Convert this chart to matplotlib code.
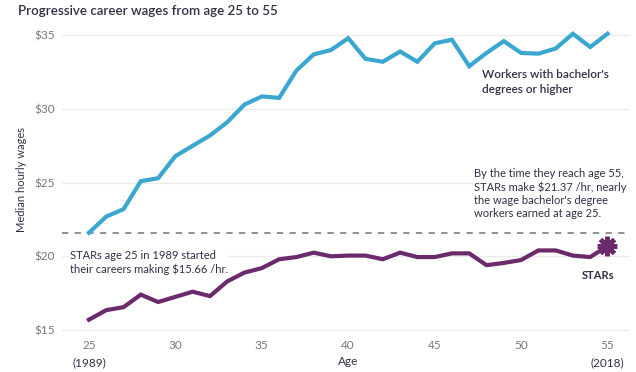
import matplotlib
matplotlib.use('Agg')
import matplotlib.pyplot as plt
import matplotlib.transforms as mtransforms

plt.rcParams['font.family'] = ['Lato', 'DejaVu Sans']

ages = list(range(25, 56))
bachelor = [21.6, 22.7, 23.2, 25.1, 25.3, 26.8, 27.5, 28.2, 29.1, 30.3,
            30.85, 30.75, 32.6, 33.7, 34.0, 34.8, 33.4, 33.2, 33.9, 33.2,
            34.45, 34.7, 32.9, 33.8, 34.6, 33.8, 33.75, 34.1, 35.1, 34.2, 35.1]
stars = [15.7, 16.35, 16.55, 17.4, 16.9, 17.25, 17.6, 17.3, 18.3, 18.9,
         19.2, 19.8, 19.95, 20.25, 20.0, 20.05, 20.05, 19.8, 20.25, 19.95,
         19.95, 20.2, 20.2, 19.4, 19.55, 19.75, 20.4, 20.4, 20.05, 19.95, 20.7]
x_ticks = [25, 30, 35, 40, 45, 50, 55]
y_ticks = [15, 20, 25, 30, 35]
y_labels = ['$15', '$20', '$25', '$30', '$35']
dash_level = 21.6

blue = '#3ba7d1'
purple = '#6a2a6c'
dark = '#2f3045'
grey = '#777777'

fig = plt.figure(figsize=(6.36, 3.72), dpi=100)
ax = fig.add_axes([0.0975, 0.097, 0.893, 0.832])

ax.plot(ages, bachelor, color=blue, lw=3, solid_joinstyle='miter', zorder=3, clip_on=False)
ax.plot(ages, stars, color=purple, lw=3, solid_joinstyle='miter', zorder=3, clip_on=False)
ax.plot(ages[-1], stars[-1], marker=(8, 2, 0), ms=14, mew=3.4, color=purple, zorder=4, clip_on=False)
ax.axhline(dash_level, color='#888888', lw=1.3, ls=(0, (3.5, 3.5)), zorder=2)

ax.set_xlim(23.44, 56.3)
ax.set_ylim(14.6, 35.6)
ax.set_yticks(y_ticks)
ax.set_yticklabels(y_labels)
ax.set_xticks(x_ticks)
ax.grid(axis='y', color='#ebebeb', lw=1, zorder=0)
ax.tick_params(length=0, labelsize=8.5, labelcolor=grey, pad=5)
ax.tick_params(axis='x', pad=3)
for s in ax.spines.values():
    s.set_visible(False)

# year notes under the first / last tick, and the axis name
trans = mtransforms.blended_transform_factory(ax.transData, ax.transAxes)
ax.text(25, -0.088, '(1989)', transform=trans, ha='center', va='center', fontsize=8.5, color=dark)
ax.text(55, -0.088, '(2018)', transform=trans, ha='center', va='center', fontsize=8.5, color=dark)
ax.text(40, -0.082, 'Age', transform=trans, ha='center', va='center', fontsize=8.5, color=dark)

fig.text(18 / 636, 1 - 11 / 372, 'Progressive career wages from age 25 to 55',
         ha='left', va='center', fontsize=9.6, color=dark, fontweight='semibold')
fig.text(22 / 636, 1 - 180 / 372, 'Median hourly wages', rotation=90,
         ha='center', va='center', fontsize=8, color=dark)

box = dict(facecolor='white', edgecolor='none', pad=1)
ax.text(47.75, 32.7, "Workers with bachelor's\ndegrees or higher", ha='left', va='top',
        fontsize=8.5, color=dark, linespacing=1.45, fontweight='semibold', zorder=5)
ax.text(47.3, 26.0, "By the time they reach age 55,\nSTARs make $21.37 /hr, nearly\n"
        "the wage bachelor's degree\nworkers earned at age 25.", ha='left', va='top',
        fontsize=8, color=dark, linespacing=1.25, bbox=box, zorder=5)
ax.text(23.9, 20.4, "STARs age 25 in 1989 started\ntheir careers making $15.66 /hr.",
        ha='left', va='top', fontsize=8, color=dark, linespacing=1.25, bbox=box, zorder=5)
ax.text(54.45, 18.7, 'STARs', ha='center', va='center', fontsize=8, color=dark,
        fontweight='bold', zorder=5)

fig.savefig('out.png', dpi=100)
